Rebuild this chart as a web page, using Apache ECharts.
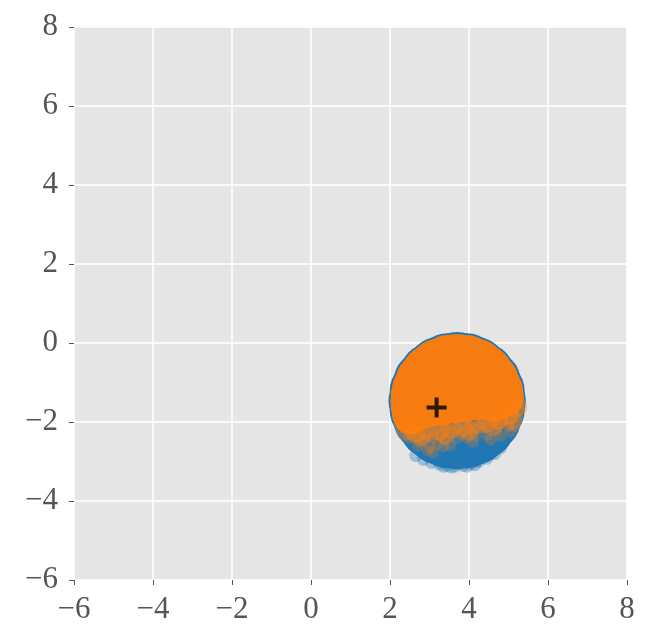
<!DOCTYPE html>
<html>
<head>
<meta charset="utf-8">
<script src="https://cdn.jsdelivr.net/npm/echarts@6/dist/echarts.min.js"></script>
<style>
  html, body { margin: 0; padding: 0; background: #fff; }
  #container { width: 650px; height: 642px; }
</style>
</head>
<body>
<div id="container"></div>
<script>
// axis range
const axisMin = -6;
const axisMax = 8;
const axisStep = 2;

// blue cloud: dense body of the disk
const blueCore = [
  [4.68, -1.46], [4.65, -1.21], [4.55, -0.97], [4.39, -0.77], [4.19, -0.61], [3.95, -0.51],
  [3.70, -0.48], [3.45, -0.51], [3.21, -0.61], [3.01, -0.77], [2.85, -0.97], [2.75, -1.21],
  [2.72, -1.46], [2.75, -1.71], [2.85, -1.95], [3.01, -2.15], [3.21, -2.31], [3.45, -2.41],
  [3.70, -2.44], [3.95, -2.41], [4.19, -2.31], [4.39, -2.15], [4.55, -1.95], [4.65, -1.71],
  [3.70, -1.46]
];
// blue stray points along the bottom rim
const blueEdge = [
  [2.85, -2.95], [3.05, -3.02], [3.25, -3.06], [3.45, -3.10], [3.65, -3.12], [3.85, -3.10],
  [4.05, -3.06], [4.25, -3.00], [4.45, -2.92], [4.65, -2.80], [3.55, -3.14], [3.95, -3.12],
  [2.65, -2.85], [4.80, -2.65], [3.35, -3.12], [4.15, -3.08]
];
// orange cloud: dense upper body
const orangeCore = [
  [4.60, -1.22], [4.51, -1.00], [4.36, -0.80], [4.17, -0.65], [3.94, -0.56], [3.70, -0.53],
  [3.46, -0.56], [3.23, -0.65], [3.04, -0.80], [2.89, -1.00], [2.80, -1.22], [3.70, -1.20]
];
// orange cloud: lower rim and lower body
const orangeLow = [
  [4.96, -1.40], [4.95, -1.30], [4.93, -1.16],
  [2.45, -1.30], [2.44, -1.46], [2.45, -1.62], [2.48, -1.79], [2.52, -1.88],
  [2.85, -1.75], [3.10, -1.68], [3.35, -1.66], [3.65, -1.60], [3.90, -1.57],
  [4.20, -1.52], [4.45, -1.45], [4.70, -1.38]
];
// orange fringe just under the solid part
const orangeFringe = [
  [2.40, -2.22], [2.65, -2.28], [2.95, -2.25], [3.25, -2.22], [3.55, -2.18], [3.85, -2.12],
  [4.15, -2.08], [4.45, -2.02], [4.75, -1.95], [5.02, -1.82], [5.22, -1.62], [2.80, -2.35],
  [3.40, -2.30], [4.00, -2.22], [4.60, -2.10], [5.10, -1.95]
];
// orange stray points along the lower boundary
const orangeEdge = [
  [2.50, -2.40], [2.76, -2.50], [3.01, -2.63], [3.52, -2.58], [3.81, -2.29], [4.19, -2.12],
  [4.45, -2.33], [4.70, -2.20], [5.04, -1.95], [5.05, -2.25], [5.21, -1.87], [4.87, -1.78],
  [2.60, -2.35], [3.30, -2.35], [3.70, -2.40], [4.00, -2.20], [4.60, -2.00], [5.00, -2.10],
  [5.25, -1.70], [2.25, -2.05], [2.95, -2.30], [3.20, -2.15], [3.55, -2.20], [4.30, -2.05],
  [4.85, -1.95], [5.25, -1.55], [2.55, -2.15], [3.95, -2.40], [2.40, -2.20], [2.70, -2.20],
  [2.85, -2.45], [3.10, -2.40], [3.40, -2.45], [3.65, -2.15], [3.85, -2.05], [4.15, -2.35],
  [4.40, -2.15], [4.55, -2.45], [4.75, -2.05], [5.10, -1.75], [3.20, -2.55], [2.70, -2.60],
  [2.95, -2.72], [3.10, -2.78], [3.35, -2.62], [4.10, -2.50], [4.80, -2.35], [5.15, -2.10]
];
// mean marker
const centerMark = [[3.18, -1.63]];

const labelFont = {
  fontFamily: 'Liberation Serif',
  fontSize: 31,
  color: '#555555'
};
const fmt = v => (v < 0 ? '\u2212' + Math.abs(v) : String(v));

var dom = document.getElementById('container');
var myChart = echarts.init(dom, null, { renderer: 'canvas' });

var option = {
  animation: false,
  backgroundColor: '#ffffff',
  grid: {
    left: 74, right: 23, top: 27, bottom: 62,
    show: true, backgroundColor: '#e5e5e5', borderWidth: 0
  },
  xAxis: {
    type: 'value', min: axisMin, max: axisMax, interval: axisStep,
    axisLine: { show: false, onZero: false },
    axisTick: { show: true, length: 5, lineStyle: { color: '#555555', width: 1 } },
    axisLabel: Object.assign({ margin: 14, formatter: fmt }, labelFont),
    splitLine: { show: true, lineStyle: { color: '#ffffff', width: 1.6 } }
  },
  yAxis: {
    type: 'value', min: axisMin, max: axisMax, interval: axisStep,
    axisLine: { show: false, onZero: false },
    axisTick: { show: true, length: 5, lineStyle: { color: '#555555', width: 1 } },
    axisLabel: Object.assign({ margin: 16, formatter: fmt }, labelFont),
    splitLine: { show: true, lineStyle: { color: '#ffffff', width: 1.6 } }
  },
  series: [
    {
      type: 'scatter', data: blueCore, symbolSize: 60, z: 2,
      itemStyle: { color: '#2077b4', opacity: 1 }, silent: true
    },
    {
      type: 'scatter', data: blueEdge, symbolSize: 13, z: 3,
      itemStyle: { color: '#1f77b4', opacity: 0.35 }, silent: true
    },
    {
      type: 'scatter', data: orangeCore, symbolSize: 60, z: 4,
      itemStyle: { color: '#f67b10', opacity: 1 }, silent: true
    },
    {
      type: 'scatter', data: orangeLow, symbolSize: 34, z: 4,
      itemStyle: { color: '#f67b10', opacity: 1 }, silent: true
    },
    {
      type: 'scatter', data: orangeFringe, symbolSize: 20, z: 5,
      itemStyle: { color: '#ff7f0e', opacity: 0.4 }, silent: true
    },
    {
      type: 'scatter', data: orangeEdge, symbolSize: 12, z: 5,
      itemStyle: { color: '#ff7f0e', opacity: 0.25 }, silent: true
    },
    {
      type: 'scatter', data: centerMark, symbolSize: 20, z: 6,
      symbol: 'path://M8,0h4v8h8v4h-8v8h-4v-8h-8v-4h8z',
      itemStyle: { color: '#000000' }, silent: true
    }
  ]
};

myChart.setOption(option);
window.addEventListener('resize', myChart.resize);
</script>
</body>
</html>
